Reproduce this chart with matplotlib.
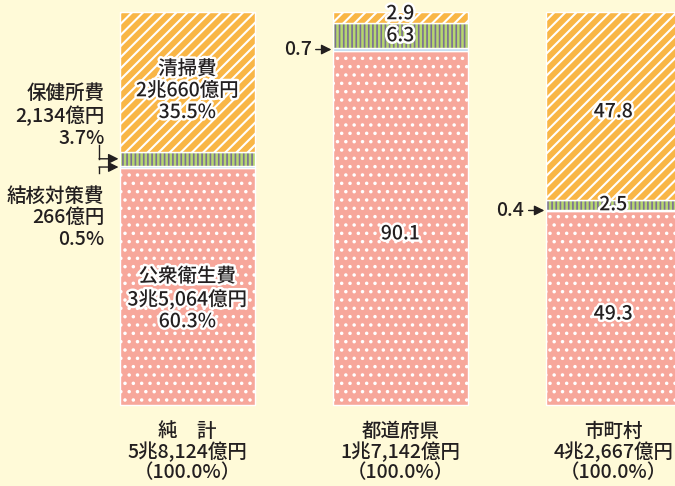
import matplotlib.pyplot as plt
import matplotlib.patheffects as pe

plt.rcParams['font.family'] = ['Noto Sans CJK JP', 'DejaVu Sans']
plt.rcParams['font.weight'] = 'medium'

# data
categories = ['純　計', '都道府県', '市町村']
totals = ['5兆8,124億円', '1兆7,142億円', '4兆2,667億円']
items = ['公衆衛生費', '結核対策費', '保健所費', '清掃費']
public_health = [60.3, 90.1, 49.3]
tuberculosis = [0.5, 0.7, 0.4]
health_center = [3.7, 6.3, 2.5]
cleaning = [35.5, 2.9, 47.8]
amounts_net = ['3兆5,064億円', '266億円', '2,134億円', '2兆660億円']

BG = '#fffad8'
TXT = '#231f20'
face = ['#f7a79b', '#b9d8ef', '#b6d76f', '#f9b646']
hatch_col = ['white', '#b9d8ef', '#7b6f93', 'white']
hatches = ['..', None, '||||', '///']
hatch_lw = [1.3, 1.0, 1.2, 1.5]

fig = plt.figure(figsize=(6.75, 4.86), dpi=100, facecolor=BG)
ax = fig.add_axes([0, 0, 1, 1])
ax.set_facecolor(BG)
ax.set_xlim(-0.88, 2.29)
ax.set_ylim(-20.6, 103.05)
ax.axis('off')

x = [0, 1, 2]
w = 0.634
series = [public_health, tuberculosis, health_center, cleaning]
bottom = [0, 0, 0]
for k, vals in enumerate(series):
    with plt.rc_context({'hatch.linewidth': hatch_lw[k]}):
        ax.bar(x, vals, w, bottom=bottom, color=face[k],
               edgecolor=hatch_col[k], hatch=hatches[k], linewidth=0)
    ax.bar(x, vals, w, bottom=bottom, fill=False, edgecolor='white', linewidth=1.0)
    bottom = [b + v for b, v in zip(bottom, vals)]

stroke = [pe.withStroke(linewidth=3.5, foreground='white')]
fs = 14
ls = 1.18


def inner(xx, yy, s):
    ax.text(xx, yy, s, ha='center', va='center', fontsize=fs, color=TXT,
            linespacing=ls, path_effects=stroke)


# net total bar labels
inner(0, public_health[0] / 2 - 3.2,
      f'{items[0]}\n{amounts_net[0]}\n{public_health[0]:.1f}%')
top0 = public_health[0] + tuberculosis[0] + health_center[0]
inner(0, top0 + cleaning[0] / 2 - 2.3,
      f'{items[3]}\n{amounts_net[3]}\n{cleaning[0]:.1f}%')

ax.text(-0.39, 73.6, f'{items[2]}\n{amounts_net[2]}\n{health_center[0]:.1f}%',
        ha='right', va='center', fontsize=fs, color=TXT, linespacing=ls)
ax.text(-0.39, 47.6, f'{items[1]}\n{amounts_net[1]}\n{tuberculosis[0]:.1f}%',
        ha='right', va='center', fontsize=fs, color=TXT, linespacing=ls)

arr = dict(arrowstyle='-|>', color=TXT, lw=1.0, mutation_scale=15,
           shrinkA=0, shrinkB=1)
xb = -0.415
y_hc = public_health[0] + tuberculosis[0] + health_center[0] / 2
y_tb = public_health[0] + tuberculosis[0] / 2
ax.plot([xb, xb], [66.2, y_hc], color=TXT, lw=1.0)
ax.annotate('', xy=(-w / 2, y_hc), xytext=(xb, y_hc), arrowprops=arr)
ax.plot([xb, xb], [59.0, y_tb], color=TXT, lw=1.0)
ax.annotate('', xy=(-w / 2, y_tb), xytext=(xb, y_tb), arrowprops=arr)

# prefectures / municipalities
for i in (1, 2):
    inner(i, public_health[i] / 2 - 1.5, f'{public_health[i]:.1f}')
    yy = public_health[i] + tuberculosis[i]
    inner(i, yy + health_center[i] / 2, f'{health_center[i]:.1f}')
    yy += health_center[i]
    off = -1.5 if cleaning[i] > 10 else 1.0
    inner(i, yy + cleaning[i] / 2 + off, f'{cleaning[i]:.1f}')
    y_t = public_health[i] + tuberculosis[i] / 2
    ax.annotate(f'{tuberculosis[i]:.1f}', xy=(i - w / 2, y_t),
                xytext=(i - w / 2 - 0.1, y_t), ha='right', va='center',
                fontsize=fs, color=TXT,
                arrowprops=dict(arrowstyle='-|>', color=TXT, lw=1.0,
                                mutation_scale=15, shrinkA=1, shrinkB=1))

# category labels
for i in range(3):
    ax.text(x[i], -12.0, f'{categories[i]}\n{totals[i]}\n（100.0%）',
            ha='center', va='center', fontsize=fs, color=TXT, linespacing=1.05)

fig.savefig('out.png', dpi=100, facecolor=BG)
